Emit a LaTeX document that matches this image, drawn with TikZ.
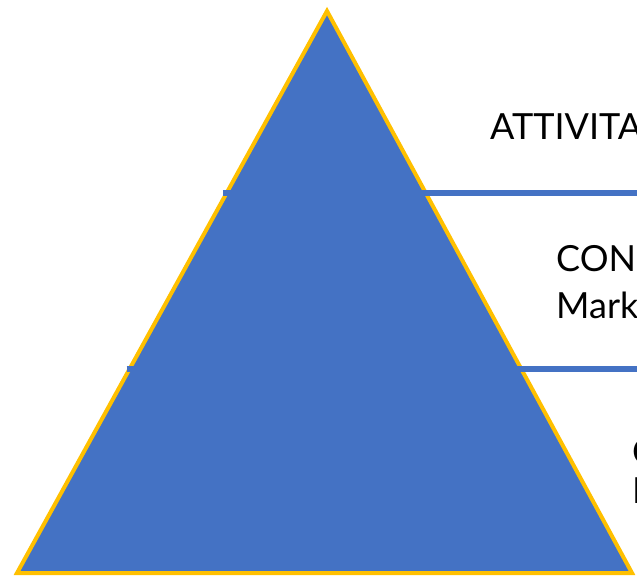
\documentclass[tikz,border=0pt]{standalone}
\usepackage{fontspec}
\setmainfont{Lato}
\definecolor{pyrblue}{HTML}{4472C4}
\definecolor{pyrgold}{HTML}{FFC000}

\begin{document}
\begin{tikzpicture}[x=1pt,y=-1pt,
  tier/.style={anchor=base west,inner sep=0pt,font=\fontsize{36}{43}\selectfont},
  divider/.style={pyrblue,line width=5.5pt}]
  \useasboundingbox (0,0) rectangle (637,576);
  \clip (0,0) rectangle (637,576);

  % Pyramid body
  \coordinate (apex) at (327,11);
  \coordinate (left) at (17,573);
  \coordinate (right) at (632,573);
  \draw[pyrgold,line width=4pt,fill=pyrblue] (apex) -- (left) -- (right) -- cycle;

  % Two level dividers, running out past the right side
  \coordinate (d1a) at (223,193);
  \coordinate (d1b) at (640,193);
  \coordinate (d2a) at (126.5,369);
  \coordinate (d2b) at (640,369);
  \draw[divider] (d1a) -- (d1b);
  \draw[divider] (d2a) -- (d2b);

  % Level captions (cut by the right edge)
  \node[tier] (top) at (490,139) {ATTIVITA};
  \node[tier] (mid) at (556,271) {CON};
  \node[tier] (midb) at (556,318) {Marke};
  \node[tier] (low) at (632,464) {C};
  \node[tier] (lowb) at (632,503) {I};
\end{tikzpicture}
\end{document}
